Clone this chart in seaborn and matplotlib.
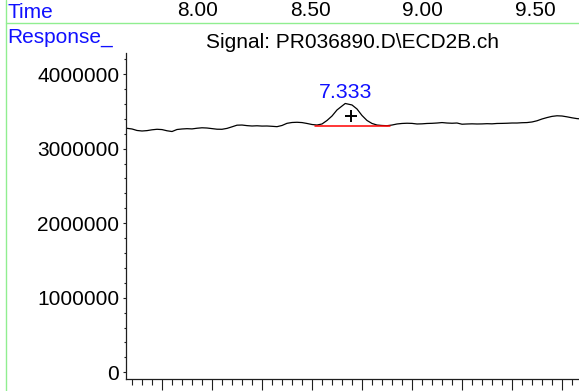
import matplotlib
matplotlib.use("Agg")
import matplotlib.pyplot as plt
import matplotlib.transforms as mtransforms
from matplotlib.lines import Line2D
from matplotlib.ticker import MultipleLocator, FixedLocator
import pandas as pd
import seaborn as sns

# ---- detector trace: retention time (min) and response (counts) ----
time_min = [
    6.46, 6.48, 6.50, 6.52, 6.54, 6.56, 6.58, 6.60, 6.62, 6.64,
    6.66, 6.68, 6.70, 6.72, 6.74, 6.76, 6.78, 6.80, 6.82, 6.84,
    6.86, 6.88, 6.90, 6.92, 6.94, 6.96, 6.98, 7.00, 7.02, 7.04,
    7.06, 7.08, 7.10, 7.12, 7.14, 7.16, 7.18, 7.20, 7.22, 7.24,
    7.26, 7.28, 7.30, 7.32, 7.333, 7.36, 7.38, 7.40, 7.42, 7.44,
    7.46, 7.48, 7.50, 7.52, 7.54, 7.56, 7.58, 7.60, 7.62, 7.64,
    7.66, 7.68, 7.70, 7.72, 7.74, 7.76, 7.78, 7.80, 7.82, 7.84,
    7.86, 7.88, 7.90, 7.92, 7.94, 7.96, 7.98, 8.00, 8.02, 8.04,
    8.06, 8.08, 8.10, 8.12, 8.14, 8.16, 8.18, 8.20, 8.22, 8.24,
    8.26, 8.28,
]
response = [
    3272000, 3263000, 3243000, 3236000, 3241000, 3252000, 3259000, 3255000, 3239000, 3229000,
    3256000, 3263000, 3267000, 3264000, 3273000, 3279000, 3276000, 3268000, 3260000, 3259000,
    3271000, 3292000, 3314000, 3316000, 3308000, 3303000, 3306000, 3302000, 3303000, 3299000,
    3294000, 3310000, 3339000, 3350000, 3353000, 3349000, 3337000, 3323000, 3316000, 3330000,
    3377000, 3437000, 3518000, 3571000, 3605000, 3585000, 3531000, 3444000, 3377000, 3337000,
    3316000, 3310000, 3307000, 3316000, 3330000, 3337000, 3340000, 3338000, 3330000, 3332000,
    3337000, 3339000, 3343000, 3349000, 3343000, 3340000, 3343000, 3327000, 3330000, 3332000,
    3330000, 3331000, 3334000, 3332000, 3337000, 3338000, 3340000, 3343000, 3343000, 3347000,
    3349000, 3357000, 3373000, 3397000, 3416000, 3432000, 3440000, 3437000, 3426000, 3413000,
    3402000, 3397000,
]

# ---- integrated peak ----
peak_rt = 7.333
peak_label = "7.333"
peak_mark_time = [7.355]
peak_mark_resp = [3437000]
baseline_time = [7.212, 7.512]
baseline_resp = [3298000, 3298000]

# ---- axis annotations ----
y_ticks = [0, 1000000, 2000000, 3000000, 4000000]
y_tick_labels = ["0", "1000000", "2000000", "3000000", "4000000"]
header_times = [8.00, 8.50, 9.00, 9.50]
header_labels = ["8.00", "8.50", "9.00", "9.50"]
signal_name = "Signal: PR036890.D\\ECD2B.ch"

sns.set_theme(style="ticks")
plt.rcParams["font.family"] = ["Liberation Sans", "DejaVu Sans"]

FS = 15.0
BLUE = "#1010ff"
GREEN = "#90ee90"
INK = "#1e1e1e"

W, H = 579, 391
fig = plt.figure(figsize=(W / 100, H / 100), dpi=100)
fig.patch.set_facecolor("white")

# main plotting area
ax_left, ax_right, ax_top, ax_bot = 126, 579, 53, 379.3
ax = fig.add_axes([ax_left / W, (H - ax_bot) / H,
                   (ax_right - ax_left) / W, (ax_bot - ax_top) / H])
ax.set_facecolor("white")

trace = pd.DataFrame({"time": time_min, "response": response})
sns.lineplot(data=trace, x="time", y="response", ax=ax, color="black",
             linewidth=0.9, estimator=None, sort=False)

base = pd.DataFrame({"time": baseline_time, "response": baseline_resp})
sns.lineplot(data=base, x="time", y="response", ax=ax, color="#ff0000",
             linewidth=1.1, estimator=None, sort=False)

mark = pd.DataFrame({"time": peak_mark_time, "response": peak_mark_resp})
sns.scatterplot(data=mark, x="time", y="response", ax=ax, marker="+",
                s=70, color="black", linewidth=1.4, zorder=5)

apex = response[time_min.index(peak_rt)]
ax.annotate(peak_label, xy=(peak_rt, apex), xytext=(0, 3.6),
            textcoords="offset points", ha="center", va="baseline",
            color=BLUE, fontsize=FS + 0.3)

ax.set_xlim(6.456, 8.268)
ax.set_ylim(-94000, 4282000)
ax.set_xlabel("")
ax.set_ylabel("")

ax.xaxis.set_major_locator(MultipleLocator(0.2))
ax.xaxis.set_minor_locator(MultipleLocator(0.04))
ax.yaxis.set_major_locator(FixedLocator(y_ticks))
ax.set_yticklabels(y_tick_labels)
ax.yaxis.set_minor_locator(MultipleLocator(200000))

ax.tick_params(axis="x", which="major", length=8.2, width=0.8, color=INK,
               direction="out", labelbottom=False)
ax.tick_params(axis="x", which="minor", length=4.6, width=0.8, color=INK,
               direction="out")
ax.tick_params(axis="y", which="major", length=2.5, width=0.8, color=INK,
               direction="out", pad=2.3, labelsize=FS, labelcolor="black")
ax.tick_params(axis="y", which="minor", length=1.5, width=0.8, color=INK,
               direction="out")

for side in ("top", "right"):
    ax.spines[side].set_visible(False)
for side in ("left", "bottom"):
    ax.spines[side].set_color(INK)
    ax.spines[side].set_linewidth(0.9)

ax.set_title(signal_name, pad=3.6, fontsize=FS, color="black")

# header row with the time scale
hdr_h = 23.3
hdr = fig.add_axes([0, 1 - hdr_h / H, 1, hdr_h / H])
hdr.set_axis_off()
hdr.set_xlim(8.00 - 197.6 / 225.2, 8.00 + (W - 197.6) / 225.2)
hdr.set_ylim(0, 1)
trans = mtransforms.blended_transform_factory(hdr.transData, hdr.transAxes)
for t, lab in zip(header_times, header_labels):
    hdr.text(t, (hdr_h - 16.0) / hdr_h, lab, transform=trans, ha="center",
             va="baseline", fontsize=FS, color="black")

fig.text(7 / W, 1 - 18.5 / H, "Time", ha="left", va="baseline",
         fontsize=FS, color=BLUE)
fig.text(7 / W, 1 - 43 / H, "Response_", ha="left", va="baseline",
         fontsize=FS, color=BLUE)

# frame lines of the report
fig.add_artist(Line2D([5.5 / W, 5.5 / W], [0, 1], transform=fig.transFigure,
                      color=GREEN, linewidth=1.0))
fig.add_artist(Line2D([5.5 / W, 1], [1 - hdr_h / H, 1 - hdr_h / H],
                      transform=fig.transFigure, color=GREEN, linewidth=1.0))

fig.savefig("out.png", dpi=100, facecolor="white")
